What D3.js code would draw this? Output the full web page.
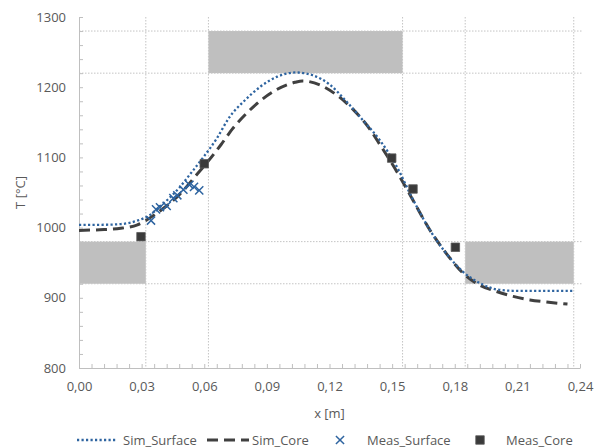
<!DOCTYPE html>
<html>
<head>
<meta charset="utf-8">
<script src="https://cdn.jsdelivr.net/npm/d3@7"></script>
<style>
body { margin: 0; background: #fff; }
text { font-family: "Open Sans", sans-serif; fill: #595959; }
</style>
</head>
<body>
<div class="chart"></div>
<script>
// series: [x in m, T in °C]
var simSurface = [
    [0, 1004], [0.01, 1004], [0.02, 1005], [0.028, 1010], [0.034, 1018],
    [0.0388, 1030], [0.0436, 1043], [0.0484, 1058], [0.0532, 1076], [0.0595, 1100],
    [0.066, 1127], [0.072, 1157], [0.079, 1180], [0.087, 1201], [0.095, 1215],
    [0.104, 1221], [0.112, 1217], [0.12, 1204], [0.128, 1180], [0.136, 1153],
    [0.144, 1125], [0.152, 1088], [0.16, 1040], [0.168, 997], [0.176, 963],
    [0.184, 937], [0.192, 921], [0.2, 912], [0.208, 910], [0.22, 910], [0.237, 910]
];
var simCore = [
    [0, 996], [0.01, 997], [0.02, 999], [0.028, 1004], [0.037, 1020],
    [0.0484, 1048], [0.056, 1074], [0.062, 1095], [0.068, 1118], [0.0736, 1141],
    [0.08, 1162], [0.087, 1181], [0.095, 1197], [0.1035, 1207], [0.107, 1209],
    [0.1155, 1203], [0.1234, 1189], [0.1314, 1168], [0.1394, 1140], [0.1442, 1118],
    [0.1522, 1080], [0.16, 1039], [0.168, 997], [0.176, 963], [0.184, 935],
    [0.192, 918], [0.2, 909], [0.208, 902], [0.216, 897], [0.224, 894], [0.234, 891]
];
var measSurface = [
    [0.0345, 1010], [0.0369, 1026], [0.0388, 1029], [0.042, 1031], [0.0452, 1042],
    [0.0471, 1046], [0.05, 1054], [0.0529, 1061], [0.0551, 1058], [0.0576, 1053]
];
var measCore = [
    [0.0297, 987], [0.060, 1091], [0.1498, 1099], [0.160, 1055], [0.1803, 972]
];
// grey target windows: [x0, x1, T0, T1]
var windows = [
    [0, 0.032, 920, 980],
    [0.062, 0.155, 1220, 1280],
    [0.185, 0.237, 920, 980]
];
var guideX = [0.032, 0.062, 0.155, 0.185, 0.237];
var guideT = [920, 980, 1220, 1280];

var legendNames = [`Sim_Surface`, `Sim_Core`, `Meas_Surface`, `Meas_Core`];

var margin = {top: 17, bottom: 80, left: 79, right: 22};
var fullWidth = 602, fullHeight = 448;
var width = fullWidth - margin.left - margin.right;
var height = fullHeight - margin.top - margin.bottom;

var blue = `#2e64a0`, dark = `#404040`, grid = `#c4c4c4`, axisCol = `#bfbfbf`;

var root = d3.select(`.chart`)
    .append(`svg`)
    .attr(`width`, fullWidth)
    .attr(`height`, fullHeight)
    .attr(`viewBox`, `0 0 ${fullWidth} ${fullHeight}`);

var svg = root.append(`g`)
    .attr(`transform`, `translate(${margin.left},${margin.top})`);

var xScale = d3.scaleLinear().domain([0, 0.24]).range([0, width]);
var yScale = d3.scaleLinear().domain([800, 1300]).range([height, 0]);

// grey windows
svg.selectAll(`.win`)
    .data(windows)
    .enter()
    .append(`rect`)
    .attr(`x`, d => xScale(d[0]))
    .attr(`y`, d => yScale(d[3]))
    .attr(`width`, d => xScale(d[1]) - xScale(d[0]))
    .attr(`height`, d => yScale(d[2]) - yScale(d[3]))
    .style(`fill`, `#bfbfbf`);

// dotted guide lines
svg.selectAll(`.gx`)
    .data(guideX)
    .enter()
    .append(`line`)
    .attr(`x1`, d => xScale(d)).attr(`x2`, d => xScale(d))
    .attr(`y1`, 0).attr(`y2`, height)
    .style(`stroke`, grid).style(`stroke-dasharray`, `1.5,1.5`);
svg.selectAll(`.gy`)
    .data(guideT)
    .enter()
    .append(`line`)
    .attr(`x1`, 0).attr(`x2`, width + 2)
    .attr(`y1`, d => yScale(d)).attr(`y2`, d => yScale(d))
    .style(`stroke`, grid).style(`stroke-dasharray`, `1.5,1.5`);

// axes
var comma = v => d3.format(`.2f`)(v).replace(`.`, `,`);
var xTicks = d3.range(0, 41).map(i => i * 0.006);
var xAxis = d3.axisBottom(xScale)
    .tickValues(xTicks)
    .tickSizeInner(-4).tickSizeOuter(0)
    .tickPadding(14)
    .tickFormat((d, i) => i % 5 === 0 ? comma(d) : ``);
var gx = svg.append(`g`)
    .attr(`transform`, `translate(0, ${height})`)
    .call(xAxis);

var yTicks = d3.range(800, 1301, 20);
var yAxis = d3.axisLeft(yScale)
    .tickValues(yTicks)
    .tickSizeInner(-4).tickSizeOuter(0)
    .tickPadding(13)
    .tickFormat(d => d % 100 === 0 ? d : ``);
var gy = svg.append(`g`).call(yAxis);

[gx, gy].forEach(g => {
    g.select(`.domain`).style(`stroke`, axisCol);
    g.selectAll(`.tick line`).style(`stroke`, axisCol);
    g.selectAll(`.tick text`)
        .style(`font-family`, `"Open Sans", sans-serif`)
        .style(`font-size`, `13px`)
        .style(`fill`, `#595959`);
});

// axis titles
svg.append(`text`)
    .attr(`transform`, `translate(${20 - margin.left}, ${height / 2}) rotate(-90)`)
    .attr(`text-anchor`, `middle`)
    .attr(`dy`, `0.35em`)
    .style(`font-size`, `13px`)
    .text(`T [°C]`);
svg.append(`text`)
    .attr(`x`, width / 2)
    .attr(`y`, height + 50)
    .attr(`text-anchor`, `middle`)
    .style(`font-size`, `13px`)
    .text(`x [m]`);

// simulated curves
var line = d3.line()
    .x(d => xScale(d[0]))
    .y(d => yScale(d[1]))
    .curve(d3.curveMonotoneX);

svg.append(`path`)
    .attr(`d`, line(simCore))
    .style(`fill`, `none`)
    .style(`stroke`, dark)
    .style(`stroke-width`, 3)
    .style(`stroke-dasharray`, `11,6`);

svg.append(`path`)
    .attr(`d`, line(simSurface))
    .style(`fill`, `none`)
    .style(`stroke`, blue)
    .style(`stroke-width`, 2.3)
    .style(`stroke-dasharray`, `2.2,2.3`);

// measurements
svg.selectAll(`.ms`)
    .data(measSurface)
    .enter()
    .append(`path`)
    .attr(`transform`, d => `translate(${xScale(d[0])},${yScale(d[1])})`)
    .attr(`d`, d3.symbol(d3.symbolX, 45))
    .style(`fill`, `none`)
    .style(`stroke`, blue)
    .style(`stroke-width`, 1.5);

svg.selectAll(`.mc`)
    .data(measCore)
    .enter()
    .append(`path`)
    .attr(`transform`, d => `translate(${xScale(d[0])},${yScale(d[1])})`)
    .attr(`d`, d3.symbol(d3.symbolSquare, 72))
    .style(`fill`, `#3a3a3a`)
    .style(`stroke`, `#5a5a5a`)
    .style(`stroke-width`, 0.8);

// legend
var legend = root.append(`g`).attr(`transform`, `translate(0, 440)`);
var lx = [77, 207, 340, 480];
var tx = [123, 252, 367, 506];

legend.append(`line`)
    .attr(`x1`, lx[0]).attr(`x2`, lx[0] + 40).attr(`y1`, 0).attr(`y2`, 0)
    .style(`stroke`, blue).style(`stroke-width`, 2.3).style(`stroke-dasharray`, `2.2,2.3`);
legend.append(`line`)
    .attr(`x1`, lx[1]).attr(`x2`, lx[1] + 42).attr(`y1`, 0).attr(`y2`, 0)
    .style(`stroke`, dark).style(`stroke-width`, 3).style(`stroke-dasharray`, `11,6`);
legend.append(`path`)
    .attr(`transform`, `translate(${lx[2]},0)`)
    .attr(`d`, d3.symbol(d3.symbolX, 45))
    .style(`fill`, `none`).style(`stroke`, blue).style(`stroke-width`, 1.5);
legend.append(`path`)
    .attr(`transform`, `translate(${lx[3]},0)`)
    .attr(`d`, d3.symbol(d3.symbolSquare, 72))
    .style(`fill`, `#3a3a3a`).style(`stroke`, `#5a5a5a`).style(`stroke-width`, 0.8);

legend.selectAll(`.lt`)
    .data(legendNames)
    .enter()
    .append(`text`)
    .attr(`x`, (d, i) => tx[i])
    .attr(`dy`, `0.35em`)
    .style(`font-size`, `13px`)
    .text(d => d);
</script>
</body>
</html>
